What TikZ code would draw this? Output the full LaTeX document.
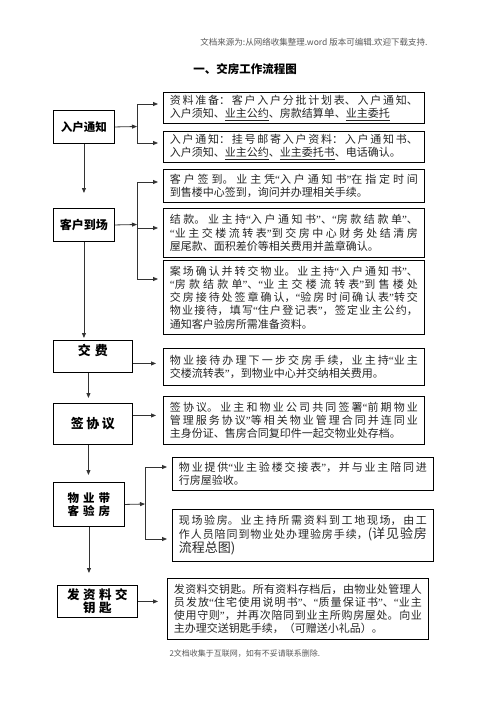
\documentclass[tikz,border=0pt]{standalone}
\usepackage{fontspec}
\setmainfont{Noto Sans CJK SC}
\newfontfamily\myquotefont{Liberation Serif}
\XeTeXlinebreaklocale "zh"
\XeTeXlinebreakskip=0pt plus 2pt
\tolerance=10000
\usetikzlibrary{arrows.meta}
\newcommand\myql{{\myquotefont “}}
\newcommand\myqr{{\myquotefont ”}}
\newcommand\lsp[1]{\hspace{#1}}
\begin{document}
\begin{tikzpicture}[x=1pt,y=-1pt,
  lbl/.style={draw, line width=0.9pt, anchor=north west, inner sep=0pt, align=center},
  txt/.style={draw, line width=0.9pt, anchor=north west, inner xsep=6.5pt, inner ysep=0pt,
    text width=248pt, align=justify, font=\fontsize{11}{13.3}\selectfont, text=black!85},
  conn/.style={draw=black!80, line width=0.8pt},
  arr/.style={conn, -{Triangle[length=5pt,width=4pt]}}]
\useasboundingbox (0,0) rectangle (496,702);
\fill[white] (0,0) rectangle (496,702);

\node[font=\fontsize{8.5}{10}\selectfont, text=black!65] (hdr) at (314,42) {文档来源为:从网络收集整理.word 版本可编辑.欢迎下载支持.};
\node[font=\bfseries\fontsize{11.5}{13}\selectfont] (ttl) at (245,69) {一、交房工作流程图};

% left column
\node[lbl, minimum width=61pt, minimum height=33pt, font=\bfseries\fontsize{11.5}{13}\selectfont] (L1) at (53,110) {入户通知};
\node[lbl, minimum width=61pt, minimum height=33pt, font=\bfseries\fontsize{12}{13}\selectfont] (L2) at (53,208) {客户到场};
\node[lbl, minimum width=79pt, minimum height=32pt, text height=14pt, text depth=16pt, font=\bfseries\fontsize{13}{13}\selectfont] (L3) at (53,340) {交\lsp{4pt}费};
\node[lbl, minimum width=79pt, minimum height=41pt, font=\bfseries\fontsize{13}{13}\selectfont] (L4) at (53,403) {签\lsp{2.5pt}协\lsp{2.5pt}议};
\node[lbl, minimum width=71pt, minimum height=44pt, font=\bfseries\fontsize{11.5}{12.5}\selectfont] (L5) at (53,482) {物\lsp{4pt}业\lsp{4pt}带\\客\lsp{4pt}验\lsp{4pt}房};
\node[lbl, minimum width=80pt, minimum height=32pt, font=\bfseries\fontsize{12.5}{13}\selectfont] (L6) at (57,585) {发\lsp{3.5pt}资\lsp{3.5pt}料\lsp{3.5pt}交\\钥\lsp{3.5pt}匙};

% right column
\node[txt, minimum height=31pt] (R1) at (163,92) {\parfillskip=0pt 资料准备：客户入户分批计划表、入户通知、\linebreak 入户须知、\underline{业主公约}、房款结算单、\underline{业主委托}};
\node[txt, minimum height=31pt] (R2) at (163,131) {\parfillskip=0pt 入户通知：挂号邮寄入户资料：入户通知书、\linebreak 入户须知、\underline{业主公约}、\underline{业主委托书}、电话确认。};
\node[txt, minimum height=33pt] (R3) at (163,169) {客户签到。业主凭\myql 入户通知书\myqr 在指定时间\linebreak 到售楼中心签到，询问并办理相关手续。};
\node[txt, minimum height=49pt] (R4) at (163,208) {结款。业主持\myql 入户通知书\myqr、\myql 房款结款单\myqr、\linebreak \myql 业主交楼流转表\myqr 到交房中心财务处结清房\linebreak 屋尾款、面积差价等相关费用并盖章确认。};
\node[txt, minimum height=74pt] (R5) at (163,260) {案场确认并转交物业。业主持\myql 入户通知书\myqr、\linebreak \myql 房款结款单\myqr、\myql 业主交楼流转表\myqr 到售楼处\linebreak 交房接待处签章确认，\myql 验房时间确认表\myqr 转交\linebreak 物业接待，填写\myql 住户登记表\myqr，签定业主公约，\linebreak 通知客户验房所需准备资料。};
\node[txt, minimum height=37pt] (R6) at (163,348) {物业接待办理下一步交房手续，业主持\myql 业主\linebreak 交楼流转表\myqr，到物业中心并交纳相关费用。};
\node[txt, minimum height=48pt] (R7) at (163,396) {\parfillskip=0pt 签协议。业主和物业公司共同签署\myql 前期物业\linebreak 管理服务协议\myqr 等相关物业管理合同并连同业\linebreak 主身份证、售房合同复印件一起交物业处存档。};
\node[txt, minimum height=33pt] (R8) at (172,457) {物业提供\myql 业主验楼交接表\myqr，并与业主陪同进\linebreak 行房屋验收。};
\node[txt, minimum height=52pt] (R9) at (172,509) {现场验房。业主持所需资料到工地现场，由工\linebreak 作人员陪同到物业处办理验房手续，{\fontsize{13}{13.3}\selectfont (详见验房}\linebreak {\fontsize{13}{13.3}\selectfont 流程总图)}};
\node[txt, minimum height=61pt] (R10) at (167,578) {发资料交钥匙。所有资料存档后，由物业处管理人\linebreak 员发放\myql 住宅使用说明书\myqr、\myql 质量保证书\myqr、\myql 业主\linebreak 使用守则\myqr，并再次陪同到业主所购房屋处。向业\linebreak 主办理交送钥匙手续，（可赠送小礼品）。};

\node[anchor=west, font=\fontsize{8}{10}\selectfont, text=black!65] (ftr) at (166,654) {2文档收集于互联网，如有不妥请联系删除.};

% branch 1
\coordinate (J1) at (137,126.5);
\coordinate (J1a) at (137,104);
\coordinate (J1b) at (137,143);
\draw[arr] (L1.east) -- (J1);
\draw[conn] (J1a) -- (J1b);
\draw[arr, shorten >=5pt] (J1a) -- (J1a -| R1.west);
\draw[arr, shorten >=5pt] (J1b) -- (J1b -| R2.west);

% branch 2
\coordinate (J2) at (137,224.5);
\coordinate (J2a) at (137,182);
\coordinate (J2b) at (137,228);
\coordinate (J2c) at (137,279);
\draw[arr] (L2.east) -- (J2);
\draw[conn] (J2a) -- (J2c);
\draw[arr, shorten >=5pt] (J2a) -- (J2a -| R3.west);
\draw[arr, shorten >=5pt] (J2b) -- (J2b -| R4.west);
\draw[arr, shorten >=5pt] (J2c) -- (J2c -| R5.west);

% branch 3
\coordinate (J3) at (145,504);
\coordinate (J3a) at (145,467);
\coordinate (J3b) at (145,539);
\draw[arr] (L5.east) -- (J3);
\draw[conn] (J3a) -- (J3b);
\draw[arr, shorten >=5pt] (J3a) -- (J3a -| R8.west);
\draw[arr, shorten >=5pt] (J3b) -- (J3b -| R9.west);

% single arrows
\draw[arr, shorten >=7pt] ([yshift=-7pt]L3.east) -- ([yshift=-7pt]L3.east -| R6.west);
\draw[arr, shorten >=7pt] ([yshift=8.5pt]L4.east) -- ([yshift=8.5pt]L4.east -| R7.west);
\draw[arr, shorten >=9pt] (L6.east) -- (L6.east -| R10.west);

% vertical flow
\draw[arr, shorten >=15pt] (L1.south) -- (L2.north);
\draw[arr, shorten >=2pt] (L2.south) -- (L2.south |- L3.north);
\draw[arr, shorten >=5pt] ([xshift=-4.5pt]L3.south) -- ([xshift=-4.5pt]L4.north);
\draw[arr, shorten >=7pt] ([xshift=-4.5pt]L4.south) -- ([xshift=-4.5pt]L4.south |- L5.north);
\draw[arr, shorten >=12pt] (L5.south) -- (L5.south |- L6.north);
\end{tikzpicture}
\end{document}
